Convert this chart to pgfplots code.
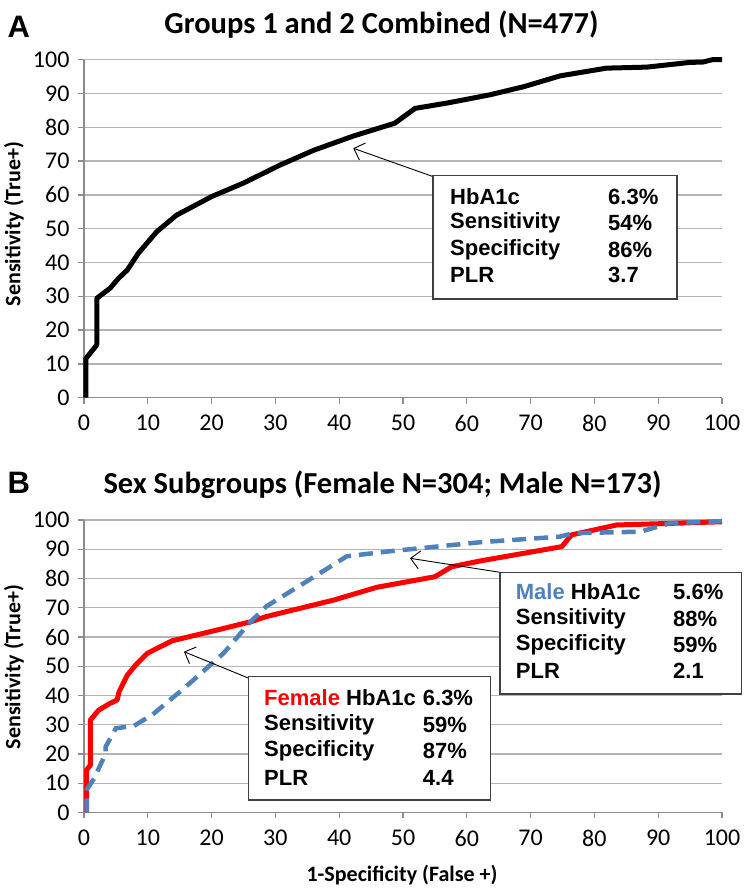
\documentclass[border=0pt]{standalone}
\usepackage{pgfplots}
\pgfplotsset{compat=1.18}
\usepackage{fontspec}
\setmainfont{Carlito}
\newfontfamily\arial{Liberation Sans}
\usetikzlibrary{arrows.meta}
\definecolor{exblue}{HTML}{4F81BD}
\definecolor{gridgray}{HTML}{B4B4B4}
\definecolor{axisgray}{HTML}{8C8C8C}
\definecolor{boxgray}{HTML}{404040}
\pgfplotsset{roc/.style={
  scale only axis, width=638pt,
  xmin=0, xmax=100, ymin=0, ymax=100,
  xtick={0,10,...,100}, ytick={0,10,...,100},
  axis lines=left, axis line style={-, draw=axisgray, line width=1.3pt},
  ymajorgrids, grid style={gridgray, line width=1.3pt},
  tick style={axisgray, line width=1.3pt}, tick align=outside, major tick length=6pt,
  ticklabel style={font=\fontsize{24}{24}\selectfont, text=black},
  xticklabel style={yshift=-8pt},
  yticklabel style={xshift=-5pt},
  /pgf/number format/assume math mode=true,
  clip=false}}
\begin{document}
\begin{tikzpicture}[x=1pt,y=1pt]
\useasboundingbox (0,0) rectangle (746,888);
% ---- Top panel ----
\begin{axis}[roc, height=338pt, at={(84pt,490.3pt)}, anchor=south west]
\addplot[black, line width=5pt, line join=round] coordinates {
(0.3,0) (0.3,11.6) (2.0,15.6) (2.0,29.4) (4.1,32.4) (5.4,35.3) (6.8,37.8) (8.5,42.7)
(11.4,49.1) (14.5,54) (20,59.5) (25,63.5) (30.7,68.8) (36,73.2) (42.2,77.4) (48.7,81.2)
(51.9,85.6) (57,87.2) (63.6,89.6) (68.9,92) (74.6,95.2) (81.9,97.5) (88.2,97.8) (95,99.2)
(97,99.3) (98.5,100) (100,100)};
\end{axis}
% ---- Bottom panel ----
\begin{axis}[roc, height=292.5pt, at={(84pt,75.5pt)}, anchor=south west]
\addplot[red, line width=5pt, line join=round] coordinates {
(0.4,0) (0.4,14.5) (1.0,16.2) (1.0,31.6) (2.3,35) (4.0,37.2) (5.2,38.5) (5.5,41.3)
(6.8,47) (8.1,50.4) (9.9,54.4) (13.8,58.7) (20.9,62.4) (26.1,65.2) (28.6,67) (39.1,72.6)
(45.9,77) (55,80.6) (57.6,84) (62.1,86) (74.9,90.9) (76.4,94.9) (83.5,98.3) (91.3,98.8) (100,99.4)};
\addplot[exblue, line width=4.5pt, dash pattern=on 14pt off 8pt] coordinates {
(0.4,0) (0.4,7.7) (1.6,11.7) (3.4,20.2) (3.4,22.5) (5.0,28.8) (7.8,29.6) (10.7,33.4)
(15.7,42.5) (21.9,54.5) (26.1,65.2) (28.6,70.5) (34.9,79) (41.2,87.6) (47.9,89.3)
(62.1,92.4) (74.6,94.3) (76.7,95.5) (87.2,96) (91.8,98.9) (100,99.6)};
\end{axis}
% ---- titles and labels ----
\node[font=\arial\bfseries\fontsize{31}{31}\selectfont, anchor=west] at (4,861) {A};
\node[font=\arial\bfseries\fontsize{31}{31}\selectfont, anchor=west] at (4,405) {B};
\node[font=\bfseries\fontsize{30.5}{30.5}\selectfont] at (381.5,863) {Groups 1 and 2 Combined (N=477)};
\node[font=\bfseries\fontsize{30.5}{30.5}\selectfont] at (382.5,403) {Sex Subgroups (Female N=304; Male N=173)};
\node[rotate=90, font=\bfseries\fontsize{22}{22}\selectfont] at (14,664) {Sensitivity (True+)};
\node[rotate=90, font=\bfseries\fontsize{22}{22}\selectfont] at (14,221) {Sensitivity (True+)};
\node[font=\bfseries\fontsize{22}{22}\selectfont] at (402,13) {1-Specificity (False +)};
% ---- annotation boxes ----
\tikzset{lbl/.style={anchor=west, inner sep=0pt, font=\arial\bfseries\fontsize{22}{22}\selectfont}}
\draw[black, line width=0.9pt, -{Straight Barb[length=9pt,width=18pt]}] (433.3,711.3) -- (353.3,739.7);
\draw[boxgray, line width=1.5pt, fill=white] (433,712.3) rectangle (677,589);
\node[lbl] at (450,691.3) {HbA1c};       \node[lbl] at (608,691.3) {6.3\%};
\node[lbl] at (450,664.7) {Sensitivity}; \node[lbl] at (608,664.7) {54\%};
\node[lbl] at (450,638)   {Specificity}; \node[lbl] at (608,638)   {86\%};
\node[lbl] at (450,613)   {PLR};         \node[lbl] at (608,613)   {3.7};
% male
\draw[black, line width=0.9pt, -{Straight Barb[length=9pt,width=18pt]}] (500,315.7) -- (410,329.7);
\draw[boxgray, line width=1.5pt, fill=white] (500,315.7) rectangle (741.7,194);
\node[lbl] at (515.7,296) {\textcolor{exblue}{Male} HbA1c}; \node[lbl] at (673,296) {5.6\%};
\node[lbl] at (515.7,269) {Sensitivity}; \node[lbl] at (673,269) {88\%};
\node[lbl] at (515.7,243) {Specificity}; \node[lbl] at (673,243) {59\%};
\node[lbl] at (515.7,217) {PLR};         \node[lbl] at (673,217) {2.1};
% female
\draw[black, line width=0.9pt, -{Straight Barb[length=9pt,width=18pt]}] (249,209.7) -- (184,236.3);
\draw[boxgray, line width=1.5pt, fill=white] (248.3,211.3) rectangle (490.7,88);
\node[lbl] at (264,190)   {\textcolor{red}{Female} HbA1c}; \node[lbl] at (422.7,190) {6.3\%};
\node[lbl] at (264,163)   {Sensitivity}; \node[lbl] at (422.7,163) {59\%};
\node[lbl] at (264,137)   {Specificity}; \node[lbl] at (422.7,137) {87\%};
\node[lbl] at (264,110.3) {PLR};         \node[lbl] at (422.7,110.3) {4.4};
\end{tikzpicture}
\end{document}
